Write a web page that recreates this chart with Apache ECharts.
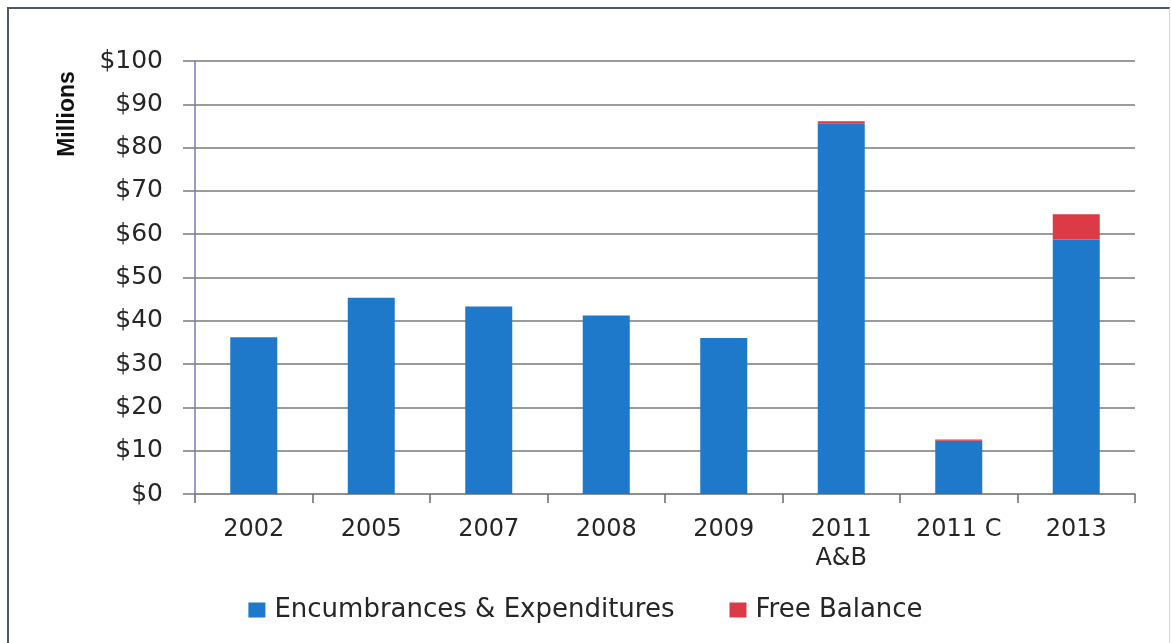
<!DOCTYPE html>
<html>
<head>
<meta charset="utf-8">
<script src="https://cdn.jsdelivr.net/npm/echarts@6/dist/echarts.min.js"></script>
<style>
  html, body { margin: 0; padding: 0; background: #fff; }
  #frame { position: absolute; left: 7px; top: 7px; width: 1160px; height: 660px;
           border-top: 2px solid #4e5566; border-left: 2px solid #4e5566; border-right: 1px solid #d3d6db; }
  #chart { position: absolute; left: 0; top: 0; width: 1171px; height: 643px; }
</style>
</head>
<body>
<div id="frame"></div>
<div id="chart"></div>
<script>
const categories = ['2002', '2005', '2007', '2008', '2009', '2011\nA&B', '2011 C', '2013'];
const encumbrances = [36.2, 45.3, 43.3, 41.2, 36.0, 85.6, 12.3, 58.8];
const freeBalance = [0, 0, 0, 0, 0, 0.5, 0.3, 5.8];
const yTicks = { min: 0, max: 100, interval: 10 };

const FONT = 'DejaVu Sans';
const chart = echarts.init(document.getElementById('chart'));
chart.setOption({
  backgroundColor: 'transparent',
  animation: false,
  grid: { left: 195, right: 36, top: 61, bottom: 149 },
  legend: {
    top: 592, left: 'center',
    itemWidth: 17, itemHeight: 15, itemGap: 55,
    icon: 'rect',
    textStyle: { fontFamily: FONT, fontSize: 26, color: '#262626', padding: [0, 0, 0, 4] },
    data: ['Encumbrances & Expenditures', 'Free Balance']
  },
  graphic: [{
    type: 'text', x: 68, y: 114, rotation: Math.PI / 2,
    style: { text: 'Millions', fontFamily: 'Liberation Sans Narrow, Liberation Sans, Arial', fontWeight: 'bold',
             fontSize: 23, fill: '#111', align: 'center', verticalAlign: 'middle' }
  }],
  xAxis: {
    type: 'category', data: categories,
    axisLine: { lineStyle: { color: '#8a8a8a', width: 1.5 } },
    axisTick: { show: true, length: 9, lineStyle: { color: '#6a6a6a', width: 1.5 } },
    axisLabel: { margin: 21, fontFamily: FONT, fontSize: 24, color: '#262626', lineHeight: 29 }
  },
  yAxis: {
    type: 'value', min: yTicks.min, max: yTicks.max, interval: yTicks.interval,
    axisLine: { show: true, lineStyle: { color: '#6f82b8', width: 1.5 } },
    axisTick: { show: true, length: 12, lineStyle: { color: '#7a7a7a', width: 1.5 } },
    axisLabel: { margin: 32, fontFamily: FONT, fontSize: 25, color: '#262626', formatter: v => '$' + v },
    splitLine: { lineStyle: { color: '#7a7a7a', width: 1.5 } }
  },
  series: [
    { name: 'Encumbrances & Expenditures', type: 'bar', stack: 'total', data: encumbrances,
      barWidth: '40%', itemStyle: { color: '#1f79cb' } },
    { name: 'Free Balance', type: 'bar', stack: 'total', data: freeBalance,
      barWidth: '40%', itemStyle: { color: '#dc3a47' } }
  ]
});
</script>
</body>
</html>
